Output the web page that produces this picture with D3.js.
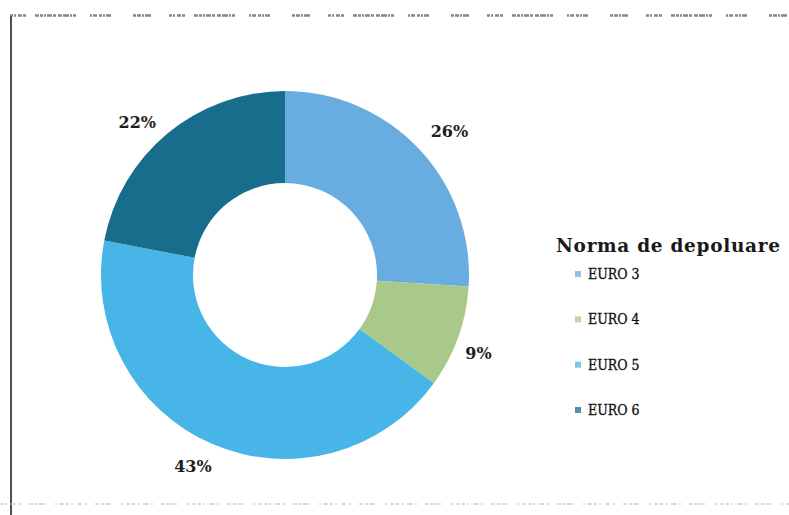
<!DOCTYPE html>
<html>
<head>
<meta charset="utf-8">
<script src="https://cdn.jsdelivr.net/npm/d3@7"></script>
<style>
  html, body { margin: 0; padding: 0; background: #ffffff; }
  svg { display: block; }
</style>
</head>
<body>
<svg id="chart" width="789" height="515"></svg>
<script>
// Share of vehicles by emission standard
const categories = ["EURO 3", "EURO 4", "EURO 5", "EURO 6"];
const shares = [26, 9, 43, 22];
const sliceColors = ["#68ade0", "#a9c98b", "#47b5e7", "#186c8c"];
const legendTitle = "Norma de depoluare";

const svg = d3.select("#chart");
const W = 789, H = 515;

// page frame: left rule, faint header/footer text rows
svg.append("line")
  .attr("x1", 11).attr("x2", 11).attr("y1", 16).attr("y2", H)
  .attr("stroke", "#222").attr("stroke-width", 1.6);
svg.append("line")
  .attr("x1", 10).attr("x2", 789).attr("y1", 15.5).attr("y2", 15.5)
  .attr("stroke", "#6a6a6a").attr("stroke-width", 2.5)
  .attr("stroke-dasharray", "3 1 2 2 4 1 3 9 4 1 3 1 2 1 5 1 3 2 4 1 6 1 2 1 3 14 2 1 4 2 3 1 2 1 5 22 3 1 4 1 2 1 6 18")
  .attr("opacity", 0.8);
svg.append("line")
  .attr("x1", 0).attr("x2", 789).attr("y1", 504).attr("y2", 504)
  .attr("stroke", "#d4d4d4").attr("stroke-width", 2)
  .attr("stroke-dasharray", "3 2 2 4 5 3 2 8 4 2 3 1 6 10 2 3 4 2")
  .attr("opacity", 0.8);

const cx = 285, cy = 275;
const outerR = 184, innerR = 92;

const color = d3.scaleOrdinal().domain(categories).range(sliceColors);

const pie = d3.pie()
  .value(d => d.value)
  .sort(null);

const data = categories.map((c, i) => ({ name: c, value: shares[i] }));
const arcs = pie(data);

const arc = d3.arc().innerRadius(innerR).outerRadius(outerR);

const g = svg.append("g").attr("transform", `translate(${cx},${cy})`);

g.selectAll("path.slice")
  .data(arcs)
  .join("path")
  .attr("class", "slice")
  .attr("d", arc)
  .attr("fill", d => color(d.data.name));

// percentage labels just outside the ring
const labelArc = d3.arc().innerRadius(outerR + 10).outerRadius(outerR + 10);
const labelNudge = { "EURO 3": [23, -11], "EURO 4": [11, 13], "EURO 5": [-15, 13], "EURO 6": [-24, -3] };
g.selectAll("text.pct")
  .data(arcs)
  .join("text")
  .attr("class", "pct")
  .attr("transform", d => {
    const [x, y] = labelArc.centroid(d);
    const n = labelNudge[d.data.name];
    return `translate(${x + n[0]},${y + n[1]})`;
  })
  .attr("text-anchor", "middle")
  .attr("dominant-baseline", "central")
  .attr("font-family", "'DejaVu Serif', serif")
  .attr("font-weight", "bold")
  .attr("font-size", 16)
  .attr("fill", "#1e1e1e")
  .text(d => d.data.value + "%");

// legend
const legend = svg.append("g").attr("transform", "translate(556,0)");
legend.append("text")
  .attr("x", 0).attr("y", 252)
  .attr("font-family", "'DejaVu Serif', serif")
  .attr("font-weight", "bold")
  .attr("font-size", 18.5)
  .attr("fill", "#1a1a1a")
  .attr("textLength", 224)
  .text(legendTitle);

const rowY = d3.scalePoint().domain(categories).range([274, 410]);

const items = legend.selectAll("g.item")
  .data(categories)
  .join("g")
  .attr("class", "item")
  .attr("transform", d => `translate(0,${rowY(d)})`);

items.append("rect")
  .attr("x", 19).attr("y", -3).attr("width", 6).attr("height", 6)
  .attr("fill", d => color(d))
  .attr("opacity", 0.75);

items.append("text")
  .attr("x", 32).attr("y", 0)
  .attr("dominant-baseline", "central")
  .attr("font-family", "'DejaVu Serif Condensed', 'DejaVu Serif', serif")
  .attr("font-size", 14)
  .attr("fill", "#111")
  .attr("stroke", "#111")
  .attr("stroke-width", 0.3)
  .text(d => d);
</script>
</body>
</html>
